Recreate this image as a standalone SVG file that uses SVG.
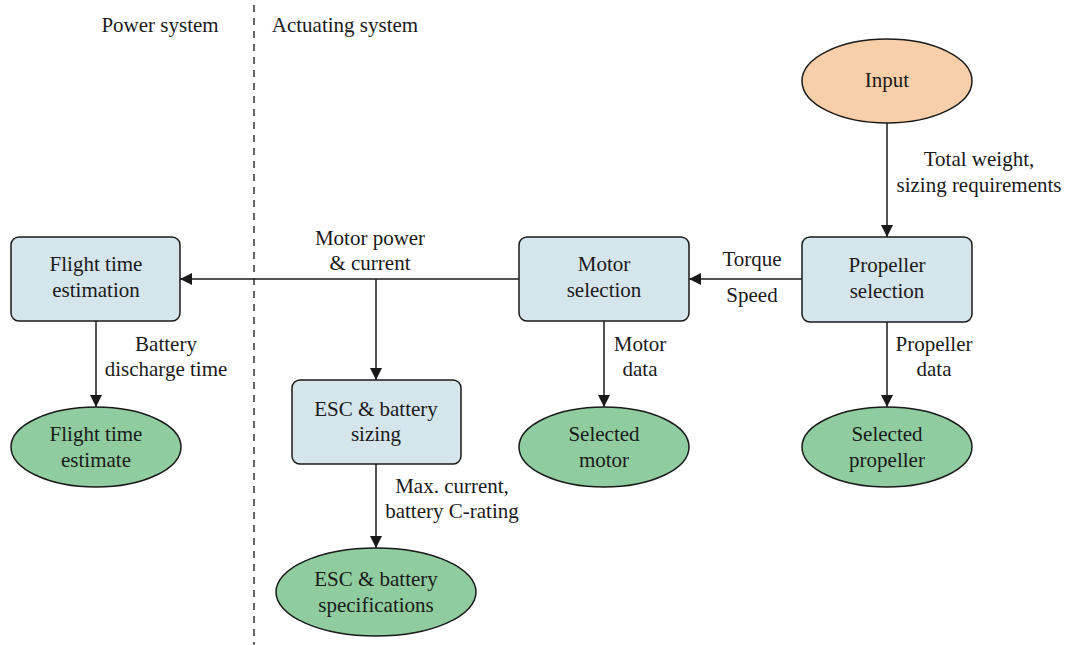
<svg xmlns="http://www.w3.org/2000/svg" width="1067" height="645" viewBox="0 0 1067 645">
<style>
text{font-family:"Liberation Serif","Times New Roman",serif;font-size:21px;fill:#1a1a1a;text-anchor:middle}
.box{fill:#d4e5ec;stroke:#1a1a1a;stroke-width:1.5}
.out{fill:#8fcc9f;stroke:#1a1a1a;stroke-width:1.5}
.in{fill:#f9cfa9;stroke:#1a1a1a;stroke-width:1.5}
.c{stroke:#1a1a1a;stroke-width:1.5;fill:none}
</style>
<defs>
<marker id="a" viewBox="0 0 12 12" refX="12" refY="6" markerWidth="12" markerHeight="12" markerUnits="userSpaceOnUse" orient="auto">
<path d="M0,0 L12,6 L0,12 z" fill="#1a1a1a"/>
</marker>
</defs>
<g id="divider">
<line x1="254" y1="5" x2="254" y2="645" stroke="#333" stroke-width="1.5" stroke-dasharray="7,6"/>
<text x="160" y="32">Power system</text>
<text x="345" y="32">Actuating system</text>
</g>
<g id="connectors">
<line class="c" x1="887" y1="123" x2="887" y2="237" marker-end="url(#a)"/>
<line class="c" x1="802" y1="279" x2="689" y2="279" marker-end="url(#a)"/>
<line class="c" x1="519" y1="279" x2="180" y2="279" marker-end="url(#a)"/>
<line class="c" x1="376" y1="279" x2="376" y2="380" marker-end="url(#a)"/>
<line class="c" x1="96" y1="321" x2="96" y2="407" marker-end="url(#a)"/>
<line class="c" x1="604" y1="321" x2="604" y2="407" marker-end="url(#a)"/>
<line class="c" x1="887" y1="322" x2="887" y2="407" marker-end="url(#a)"/>
<line class="c" x1="376" y1="464" x2="376" y2="548" marker-end="url(#a)"/>
<text x="979" y="166">Total weight,</text>
<text x="979" y="192">sizing requirements</text>
<text x="752" y="266">Torque</text>
<text x="752" y="302">Speed</text>
<text x="370" y="245">Motor power</text>
<text x="370" y="270">&amp; current</text>
<text x="166" y="351">Battery</text>
<text x="166" y="376">discharge time</text>
<text x="640" y="351">Motor</text>
<text x="640" y="376">data</text>
<text x="934" y="351">Propeller</text>
<text x="934" y="376">data</text>
<text x="452" y="493">Max. current,</text>
<text x="452" y="518">battery C-rating</text>
</g>
<g id="input">
<ellipse class="in" cx="887" cy="81" rx="85" ry="42"/>
<text x="887" y="87">Input</text>
</g>
<g id="propeller-selection">
<rect class="box" x="802" y="237" width="170" height="85" rx="8"/>
<text x="887" y="272">Propeller</text>
<text x="887" y="298">selection</text>
</g>
<g id="motor-selection">
<rect class="box" x="519" y="237" width="170" height="84" rx="8"/>
<text x="604" y="271">Motor</text>
<text x="604" y="297">selection</text>
</g>
<g id="flight-time-estimation">
<rect class="box" x="11" y="237" width="169" height="84" rx="8"/>
<text x="96" y="271">Flight time</text>
<text x="96" y="297">estimation</text>
</g>
<g id="esc-battery-sizing">
<rect class="box" x="292" y="380" width="169" height="84" rx="8"/>
<text x="376" y="416">ESC &amp; battery</text>
<text x="376" y="441">sizing</text>
</g>
<g id="flight-time-estimate">
<ellipse class="out" cx="96" cy="447" rx="85" ry="40"/>
<text x="96" y="441">Flight time</text>
<text x="96" y="467">estimate</text>
</g>
<g id="selected-motor">
<ellipse class="out" cx="604" cy="447" rx="85" ry="40"/>
<text x="604" y="441">Selected</text>
<text x="604" y="467">motor</text>
</g>
<g id="selected-propeller">
<ellipse class="out" cx="887" cy="447" rx="85" ry="40"/>
<text x="887" y="441">Selected</text>
<text x="887" y="467">propeller</text>
</g>
<g id="esc-battery-specs">
<ellipse class="out" cx="376" cy="592" rx="100" ry="44"/>
<text x="376" y="586">ESC &amp; battery</text>
<text x="376" y="612">specifications</text>
</g>
</svg>
